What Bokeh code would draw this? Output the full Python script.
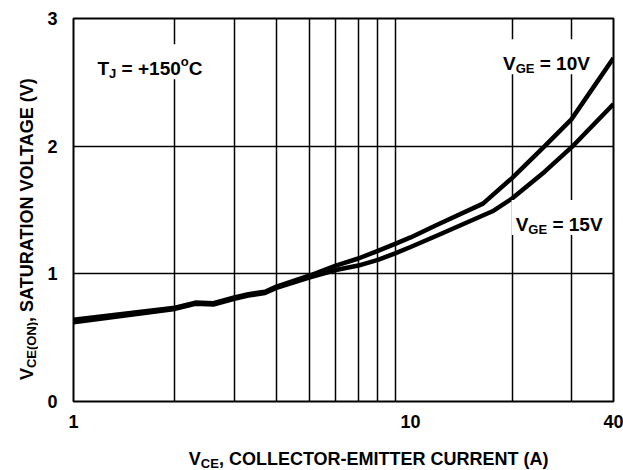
import math
from bokeh.plotting import figure
from bokeh.layouts import row, column
from bokeh.models import FixedTicker, Label, BoxAnnotation, NumeralTickFormatter
from bokeh.embed import file_html
from bokeh.resources import INLINE

# ---- data ----
ic_10v = [1, 2, 2.3, 2.6, 3.0, 3.3, 3.7, 4, 5, 6, 7, 8, 9, 10, 12, 16.4, 20, 25, 30, 40]
vce_10v = [0.64, 0.735, 0.775, 0.77, 0.815, 0.84, 0.86, 0.90, 0.985, 1.065, 1.12, 1.18,
           1.235, 1.285, 1.385, 1.55, 1.75, 2.0, 2.21, 2.69]
ic_15v = [1, 2, 2.3, 2.6, 3.0, 3.3, 3.7, 4, 5, 6, 7, 8, 9, 10, 12, 17.5, 20, 25, 30, 40]
vce_15v = [0.62, 0.725, 0.765, 0.76, 0.805, 0.83, 0.85, 0.89, 0.97, 1.03, 1.065, 1.11,
           1.16, 1.21, 1.30, 1.49, 1.59, 1.80, 1.99, 2.33]

x_major = [1, 10, 40]
x_grid = [2, 3, 4, 5, 6, 7, 8, 9, 20, 30]
y_major = [0, 1, 2, 3]
y_grid = [1, 2]

FONT = "Liberation Sans"
TICK = 18
LAB = 19
TITLE = 18
SUB = 13
NB = "\u00a0"

common = dict(output_backend="svg", toolbar_location=None)

p = figure(width=585, height=440, x_axis_type="log", x_range=(1, 40), y_range=(0, 3),
           min_border_left=35, min_border_right=10, min_border_top=18, min_border_bottom=39,
           **common)

p.outline_line_color = "black"
p.outline_line_width = 2

for ax in (p.xaxis[0], p.yaxis[0]):
    ax.axis_line_color = None
    ax.major_tick_line_color = None
    ax.minor_tick_line_color = None
    ax.major_label_text_font = FONT
    ax.major_label_text_font_style = "bold"
    ax.major_label_text_font_size = f"{TICK}px"
    ax.major_label_text_color = "black"
    ax.major_tick_in = 0
    ax.major_tick_out = 0

p.xaxis.ticker = FixedTicker(ticks=x_major)
p.xaxis.formatter = NumeralTickFormatter(format="0")
p.xaxis.major_label_standoff = 13
p.yaxis.ticker = FixedTicker(ticks=y_major)
p.yaxis.major_label_standoff = 16

p.xgrid.ticker = FixedTicker(ticks=x_grid)
p.ygrid.ticker = FixedTicker(ticks=y_grid)
for g in (p.xgrid[0], p.ygrid[0]):
    g.grid_line_color = "black"
    g.grid_line_width = 1.5
    g.grid_line_alpha = 1.0

p.line(ic_10v, vce_10v, line_color="black", line_width=4.5)
p.line(ic_15v, vce_15v, line_color="black", line_width=4.5)

# ---- rich text labels (main text + subscripts) ----
W = {' ': 278, NB: 278, '(': 333, ')': 333, '+': 584, ',': 278, '-': 333, '=': 584,
     'A': 722, 'C': 722, 'E': 667, 'G': 778, 'I': 278, 'J': 556, 'L': 611, 'M': 833,
     'N': 722, 'O': 778, 'R': 722, 'S': 667, 'T': 611, 'U': 722, 'V': 667, 'o': 611}


def tw(s, size):
    return sum(W.get(c, 556) for c in s) * size / 1000.0


def rich(fig, x, y, parts, x_off=0, y_off=0, rotated=False):
    pos = 0.0
    for text, size, shift in parts:
        kw = dict(x=x, y=y, text=text, text_font=FONT, text_font_style="bold",
                  text_font_size=f"{size}px", text_color="black",
                  text_align="left", text_baseline="alphabetic", level="overlay")
        if rotated:
            kw.update(angle=math.pi / 2, x_offset=x_off - shift, y_offset=y_off + pos)
        else:
            kw.update(x_offset=x_off + pos, y_offset=y_off + shift)
        fig.add_layout(Label(**kw))
        pos += tw(text, size)
    return pos


PX_DEC = 337.0   # pixels per decade on the x axis
PX_V = 127.7     # pixels per volt on the y axis


def boxed(x, y, parts):
    w = sum(tw(t, s) for t, s, _ in parts)
    p.add_layout(BoxAnnotation(left=x * 10 ** (-4 / PX_DEC), right=x * 10 ** ((w + 4) / PX_DEC),
                               bottom=y - 11 / PX_V, top=y + 24 / PX_V,
                               fill_color="white", fill_alpha=1.0, line_color=None,
                               level="guide"))
    rich(p, x, y, parts)


boxed(1.178, 2.61, [("T", LAB, 0), ("J", SUB, -5), (NB + "= +150", LAB, 0), ("o", SUB, 7), ("C", LAB, 0)])
boxed(18.8, 2.65, [("V", LAB, 0), ("GE", SUB, -5), (NB + "= 10V", LAB, 0)])
boxed(20.5, 1.39, [("V", LAB, 0), ("GE", SUB, -5), (NB + "= 15V", LAB, 0)])


def text_panel(width, height):
    f = figure(width=width, height=height, x_range=(0, width), y_range=(0, height),
               x_axis_location=None, y_axis_location=None, min_border=0, **common)
    f.outline_line_color = None
    f.grid.visible = False
    return f


# y axis title (left strip)
ytf = text_panel(38, 470)
yparts = [("V", TITLE, 0), ("CE(ON)", SUB, -5), (", SATURATION VOLTAGE (V)", TITLE, 0)]
yw = sum(tw(t, s) for t, s, _ in yparts)
rich(ytf, 26, 244 - yw / 2, yparts, rotated=True)

# x axis title (bottom strip)
xtf = text_panel(585, 30)
xparts = [("V", TITLE, 0), ("CE", SUB, -5), (", COLLECTOR-EMITTER CURRENT (A)", TITLE, 0)]
xw = sum(tw(t, s) for t, s, _ in xparts)
rich(xtf, 343 - 38 - xw / 2, 12, xparts)

layout = row(ytf, column(p, xtf, spacing=0), spacing=0)
open("out.html", "w").write(file_html(layout, INLINE))
